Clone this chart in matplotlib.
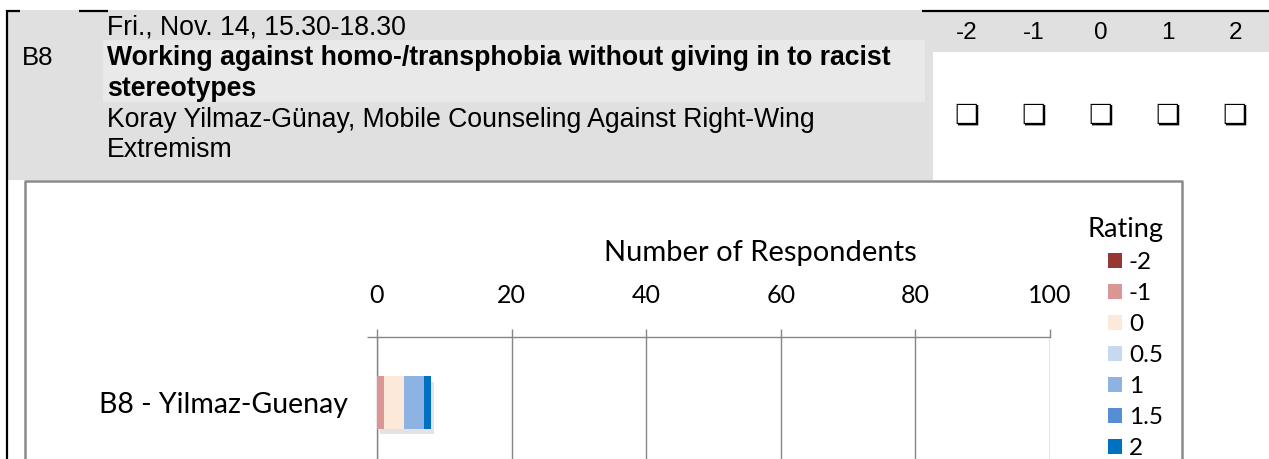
import matplotlib
matplotlib.use('Agg')
import matplotlib.pyplot as plt
import matplotlib.patheffects as pe
from matplotlib.patches import Rectangle

# header of the feedback form
session_id = 'B8'
session_time = 'Fri., Nov. 14, 15.30-18.30'
session_title = ['Working against homo-/transphobia without giving in to racist', 'stereotypes']
session_speaker = ['Koray Yilmaz-Günay, Mobile Counseling Against Right-Wing', 'Extremism']
scale_labels = ['-2', '-1', '0', '1', '2']

# chart data
category = 'B8 - Yilmaz-Guenay'
ratings = ['-2', '-1', '0', '0.5', '1', '1.5', '2']
counts = [0, 1, 3, 0, 3, 0, 1]
colors = ['#953735', '#d99694', '#fde9d9', '#c6d9f1', '#8db3e2', '#558ed5', '#0070c0']
x_ticks = [0, 20, 40, 60, 80, 100]

W, H = 1269, 459
fig = plt.figure(figsize=(W / 100, H / 100), dpi=100)
fig.patch.set_facecolor('white')

# background layer in pixel coordinates (y down)
bg = fig.add_axes([0, 0, 1, 1])
bg.set_xlim(0, W)
bg.set_ylim(H, 0)
bg.axis('off')

hdr = '#e0e0e0'
bg.add_patch(Rectangle((7.5, 10), 925.5, 170, color=hdr, lw=0))
bg.add_patch(Rectangle((933, 10), 336, 42, color=hdr, lw=0))
bg.add_patch(Rectangle((103, 40), 822, 62, color='#e9e9e9', lw=0))

# black table borders
bg.plot([7, 7], [10, H], color='black', lw=1.6, solid_capstyle='butt')
for x0, x1 in [(6, 20), (79, 108), (922, W)]:
    bg.plot([x0, x1], [10.5, 10.5], color='black', lw=1.6, solid_capstyle='butt')

# chart frame
bg.plot([24.5, 24.5, 1181.5, 1181.5], [H + 5, 181, 181, H + 5], color='#8a8a8a', lw=1.8)

hfont = 'Liberation Sans'
hs = 19.2
bg.text(22, 65, session_id, fontsize=18.5, family=hfont, va='baseline')
bg.text(107, 34, session_time, fontsize=hs, family=hfont, va='baseline')
bg.text(107, 65, session_title[0], fontsize=hs, family=hfont, weight='bold', va='baseline')
bg.text(107, 96, session_title[1], fontsize=hs, family=hfont, weight='bold', va='baseline')
bg.text(107, 127, session_speaker[0], fontsize=hs, family=hfont, va='baseline')
bg.text(107, 157, session_speaker[1], fontsize=hs, family=hfont, va='baseline')
for i, lab in enumerate(scale_labels):
    cx = 967 + 67 * i
    bg.text(cx, 39, lab, fontsize=17.5, family=hfont, ha='center', va='baseline')
    bg.text(cx, 116, '\u274f', fontsize=20, family='DejaVu Sans', ha='center', va='center',
            weight='bold')

# bar chart
cfont = 'Lato'
ax = fig.add_axes([377 / W, 1 - 468 / H, 673 / W, 131 / H])
ax.patch.set_alpha(0)
left = 0
for r, c, col in zip(ratings, counts, colors):
    bars = ax.barh(0, c, left=left, height=0.4, color=col, lw=0, label=r, zorder=3)
    for b in bars:
        b.set_path_effects([pe.SimplePatchShadow(offset=(2.5, -4), shadow_rgbFace='#808080', alpha=0.22),
                            pe.Normal()])
    left += c

ax.set_xlim(0, 100)
ax.set_ylim(-0.5, 0.5)
ax.set_xticks(x_ticks)
ax.xaxis.tick_top()
ax.tick_params(axis='x', direction='out', length=5.8, width=1, color='#868686', pad=16,
               labelsize=18, labelcolor='black')
for t in ax.get_xticklabels():
    t.set_family(cfont)
ax.set_yticks([0])
ax.set_yticklabels([category], family=cfont, fontsize=20.5)
ax.tick_params(axis='y', length=0, pad=21)
ax.set_yticks([0.5], minor=True)
ax.tick_params(axis='y', which='minor', direction='out', length=7.2, width=1, color='#868686')
ax.grid(axis='x', color='#868686', lw=1, zorder=0)
for s in ['right', 'bottom']:
    ax.spines[s].set_visible(False)
for s in ['top', 'left']:
    ax.spines[s].set_color('#868686')
    ax.spines[s].set_linewidth(1)

fig.text(760 / W, 1 - 253 / H, 'Number of Respondents', family=cfont, fontsize=21,
         ha='center', va='center')

leg = fig.legend(loc='upper left', bbox_to_anchor=(1087 / W, 1 - 217 / H), frameon=False,
                 title='Rating', alignment='right', prop={'family': cfont, 'size': 17.5},
                 title_fontproperties={'family': cfont, 'size': 19.5},
                 handlelength=0.58, handleheight=0.58, handletextpad=0.3,
                 labelspacing=0.41, borderpad=0, borderaxespad=0)
for h in leg.legend_handles:
    h.set_path_effects([])

fig.savefig('out.png', dpi=100)
